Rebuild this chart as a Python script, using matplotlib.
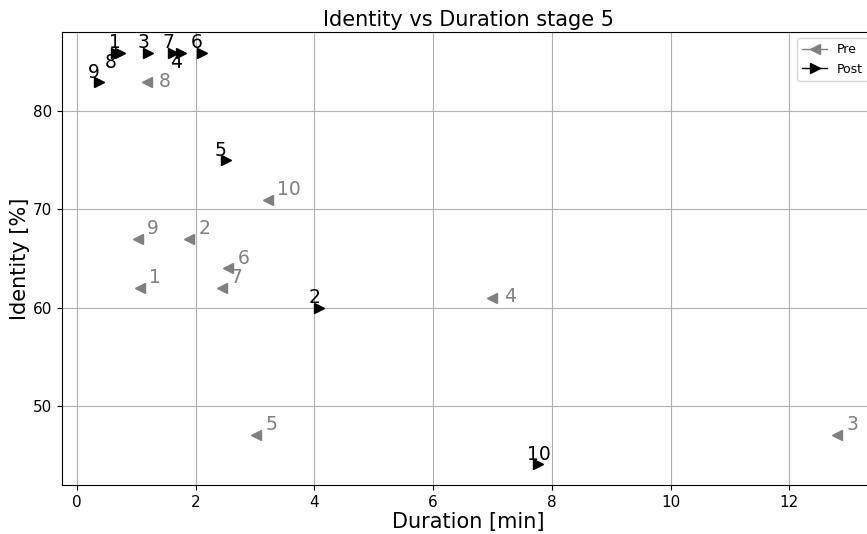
import matplotlib
matplotlib.use("Agg")
import matplotlib.pyplot as plt
from matplotlib.lines import Line2D

# Sample ids
ids = ["1", "2", "3", "4", "5", "6", "7", "8", "9", "10"]

# Pre-stage measurements
pre_duration = [1.06, 1.89, 12.81, 6.99, 3.02, 2.55, 2.44, 1.18, 1.03, 3.22]
pre_identity = [62, 67, 47, 61, 47, 64, 62, 83, 67, 71]

# Post-stage measurements
post_duration = [0.72, 4.08, 1.20, 1.75, 2.51, 2.10, 1.62, 0.66, 0.37, 7.77]
post_identity = [86, 60, 86, 86, 75, 86, 86, 86, 83, 44]

PRE_COLOR = "gray"
POST_COLOR = "black"

fig = plt.figure(figsize=(8.67, 5.34), dpi=100)
ax = fig.add_axes([0.0715, 0.0918, 0.937, 0.8482])

ax.plot(pre_duration, pre_identity, linestyle="none", marker="<",
        color=PRE_COLOR, markersize=6.5)
ax.plot(post_duration, post_identity, linestyle="none", marker=">",
        color=POST_COLOR, markersize=6.5)

# label placement (pixel offsets), nudged where labels would collide
pre_off = {"8": (12, 1), "4": (12, 1)}
post_off = {"8": (-11, -10), "4": (-11, -10)}

for name, x, y in zip(ids, pre_duration, pre_identity):
    ax.annotate(name, (x, y), xytext=pre_off.get(name, (9, 10)),
                textcoords="offset pixels", ha="left", va="center",
                fontsize=13.5, color=PRE_COLOR)
for name, x, y in zip(ids, post_duration, post_identity):
    ax.annotate(name, (x, y), xytext=post_off.get(name, (-11, 10)),
                textcoords="offset pixels", ha="left", va="center",
                fontsize=13.5, color=POST_COLOR)

ax.grid(True, color="#b0b0b0", linewidth=0.8)
ax.set_axisbelow(True)
ax.set_title("Identity vs Duration stage 5", fontsize=15, pad=4)
ax.set_xlabel("Duration [min]", fontsize=15, labelpad=2)
ax.set_ylabel("Identity [%]", fontsize=15, labelpad=2)
ax.tick_params(labelsize=11)

handles = [
    Line2D([], [], color=PRE_COLOR, marker="<", markersize=6.5, linewidth=1),
    Line2D([], [], color=POST_COLOR, marker=">", markersize=6.5, linewidth=1),
]
ax.legend(handles, ["Pre", "Post"], loc="upper right", fontsize=9)

fig.savefig("out.png", dpi=100)
